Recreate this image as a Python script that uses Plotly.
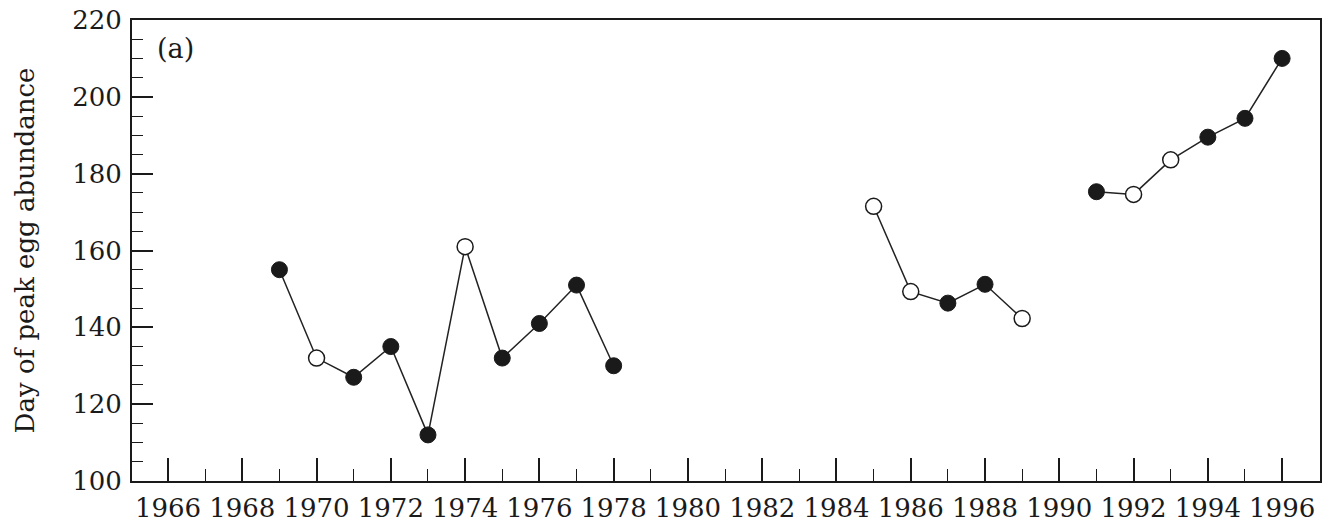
import plotly.graph_objects as go

years = [1969, 1970, 1971, 1972, 1973, 1974, 1975, 1976, 1977, 1978,
         None,
         1985, 1986, 1987, 1988, 1989,
         None,
         1991, 1992, 1993, 1994, 1995, 1996]
peak_day = [155, 132, 127, 135, 112, 161, 132, 141, 151, 130,
            None,
            171.5, 149.3, 146.3, 151.2, 142.3,
            None,
            175.3, 174.6, 183.6, 189.5, 194.4, 210]
filled = [True, False, True, True, True, False, True, True, True, True,
          None,
          False, False, True, True, False,
          None,
          True, False, False, True, True, True]

x_tick_vals = list(range(1966, 1997, 2))
x_tick_text = [str(v) for v in x_tick_vals]
y_tick_vals = [100, 120, 140, 160, 180, 200, 220]

FONT = "DejaVu Serif"
INK = "#1a1a1a"

fig = go.Figure()
fig.add_trace(go.Scatter(
    x=years, y=peak_day, mode="lines",
    line=dict(color="#222222", width=1.5),
    connectgaps=False, showlegend=False, hoverinfo="skip"))

fx = [x for x, f in zip(years, filled) if f is True]
fy = [y for y, f in zip(peak_day, filled) if f is True]
ox = [x for x, f in zip(years, filled) if f is False]
oy = [y for y, f in zip(peak_day, filled) if f is False]

fig.add_trace(go.Scatter(
    x=fx, y=fy, mode="markers",
    marker=dict(size=16, color=INK, line=dict(color=INK, width=1)),
    showlegend=False))
fig.add_trace(go.Scatter(
    x=ox, y=oy, mode="markers",
    marker=dict(size=16, color="white", line=dict(color=INK, width=1.5)),
    showlegend=False))

fig.update_layout(
    width=1324, height=523,
    margin=dict(l=132, r=4, t=20, b=42),
    paper_bgcolor="white", plot_bgcolor="white",
    font=dict(family=FONT, color=INK),
    annotations=[dict(text="(a)", x=0.019, y=0.939, xref="paper", yref="paper",
                      xanchor="left", yanchor="middle", showarrow=False,
                      font=dict(family=FONT, size=27, color=INK))],
)

fig.update_xaxes(
    range=[1965.03, 1997.02], automargin=False,
    tickmode="array", tickvals=x_tick_vals, ticktext=x_tick_text,
    ticks="inside", ticklen=23, tickwidth=1.5, tickcolor=INK,
    minor=dict(ticks="inside", ticklen=12, tickwidth=1.3, tickcolor=INK,
               dtick=1, tick0=1965, showgrid=False),
    showline=True, linecolor=INK, linewidth=1.8, mirror=True,
    showgrid=False, zeroline=False,
    ticklabelstandoff=3,
    tickfont=dict(family=FONT, size=26, color=INK),
)
fig.update_yaxes(
    range=[100, 220], automargin=False,
    tickmode="array", tickvals=y_tick_vals,
    ticks="inside", ticklen=21, tickwidth=1.5, tickcolor=INK,
    minor=dict(ticks="inside", ticklen=11, tickwidth=1.3, tickcolor=INK,
               dtick=5, tick0=100, showgrid=False),
    showline=True, linecolor=INK, linewidth=1.8, mirror=True,
    showgrid=False, zeroline=False,
    ticklabelstandoff=3,
    tickfont=dict(family=FONT, size=26, color=INK),
    title=dict(text="Day of peak egg abundance", standoff=30,
               font=dict(family=FONT, size=26, color=INK)),
)

fig.write_html("out.html")
